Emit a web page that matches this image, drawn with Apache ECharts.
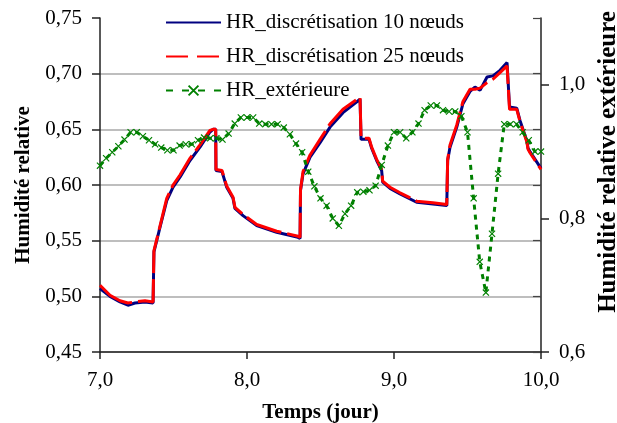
<!DOCTYPE html>
<html>
<head>
<meta charset="utf-8">
<script src="https://cdn.jsdelivr.net/npm/echarts@6/dist/echarts.min.js"></script>
<style>
  html, body { margin: 0; padding: 0; background: #fff; }
  #main { width: 617px; height: 423px; }
</style>
</head>
<body>
<div id="main"></div>
<script>
// temps (jour) des points des courbes simulées
const hrDays = [7.000, 7.068, 7.136, 7.190, 7.238, 7.306, 7.361, 7.367, 7.408, 7.454,
  7.497, 7.544, 7.612, 7.680, 7.748, 7.769, 7.787, 7.789, 7.830, 7.862,
  7.905, 7.918, 7.973, 8.066, 8.202, 8.347, 8.361, 8.364, 8.381, 8.429,
  8.497, 8.565, 8.653, 8.769, 8.776, 8.830, 8.848, 8.882, 8.916, 8.923,
  8.973, 9.041, 9.154, 9.265, 9.359, 9.365, 9.381, 9.427, 9.469, 9.517,
  9.551, 9.585, 9.633, 9.673, 9.721, 9.769, 9.782, 9.786, 9.835, 9.857,
  9.903, 9.912, 9.925, 10.000];

// HR_discrétisation 10 nœuds
const hr10 = [0.507, 0.500, 0.495, 0.492, 0.494, 0.495, 0.494, 0.540, 0.562, 0.586,
  0.598, 0.607, 0.622, 0.634, 0.6476, 0.650, 0.650, 0.613, 0.612, 0.598,
  0.588, 0.579, 0.5725, 0.5635, 0.5575, 0.553, 0.552, 0.595, 0.610, 0.625,
  0.638, 0.652, 0.665, 0.677, 0.641, 0.641, 0.633, 0.622, 0.613, 0.6025,
  0.597, 0.592, 0.5845, 0.583, 0.5815, 0.622, 0.634, 0.652, 0.673, 0.684,
  0.688, 0.685, 0.697, 0.698, 0.703, 0.710, 0.710, 0.670, 0.669, 0.658,
  0.640, 0.633, 0.630, 0.615];

// HR_discrétisation 25 nœuds
const hr25 = [0.510, 0.501, 0.496, 0.494, 0.495, 0.496, 0.495, 0.541, 0.563, 0.588,
  0.600, 0.609, 0.624, 0.636, 0.649, 0.650, 0.650, 0.614, 0.613, 0.599,
  0.589, 0.580, 0.5735, 0.5645, 0.5585, 0.554, 0.553, 0.596, 0.612, 0.627,
  0.641, 0.655, 0.668, 0.679, 0.642, 0.642, 0.634, 0.623, 0.614, 0.6035,
  0.598, 0.593, 0.5855, 0.584, 0.5825, 0.623, 0.636, 0.654, 0.675, 0.686,
  0.686, 0.687, 0.692, 0.695, 0.701, 0.707, 0.707, 0.668, 0.668, 0.657,
  0.639, 0.632, 0.629, 0.614];

// HR_extérieure, un relevé par heure à partir du jour 7,0
const extHR = [0.879, 0.890, 0.899, 0.908, 0.918, 0.929, 0.929, 0.923, 0.917, 0.911,
  0.906, 0.902, 0.902, 0.909, 0.911, 0.911, 0.917, 0.921, 0.920, 0.920,
  0.918, 0.927, 0.942, 0.951, 0.951, 0.951, 0.942, 0.941, 0.941, 0.941,
  0.936, 0.926, 0.912, 0.899, 0.870, 0.848, 0.830, 0.819, 0.800, 0.789,
  0.807, 0.819, 0.839, 0.840, 0.842, 0.849, 0.880, 0.909, 0.929, 0.929,
  0.920, 0.929, 0.942, 0.962, 0.969, 0.969, 0.962, 0.960, 0.960, 0.953,
  0.929, 0.830, 0.735, 0.689, 0.777, 0.867, 0.941, 0.941, 0.941, 0.929,
  0.917, 0.900, 0.900];

const xTicks = [7, 8, 9, 10];
const leftTicks = [0.45, 0.50, 0.55, 0.60, 0.65, 0.70, 0.75];
const rightTicks = [0.6, 0.8, 1.0];

const serif = '"Liberation Serif", "DejaVu Serif", serif';
const xMark = 'path://M0,1.2L1.2,0L10,8.8L8.8,10Z M8.8,0L10,1.2L1.2,10L0,8.8Z';
const noSymbol = { color: 'transparent', borderWidth: 0 };

let chart = echarts.init(document.getElementById('main'));

const pairs = (xs, ys) => ys.map((v, i) => [xs[i], v]);
const extData = extHR.map((v, i) => [7 + i / 24, v]);

let option = {
  animation: false,
  backgroundColor: '#fff',
  textStyle: { fontFamily: serif, color: '#000' },
  grid: { left: 100, right: 76, top: 18, bottom: 71, outerBoundsMode: 'none', containLabel: false },
  legend: {
    orient: 'vertical',
    left: 165,
    top: 12,
    padding: 0,
    itemGap: 13,
    itemWidth: 55,
    itemHeight: 14,
    textStyle: { fontFamily: serif, fontSize: 21, color: '#000' },
    data: [
      { name: 'HR_discrétisation 10 nœuds', itemStyle: noSymbol },
      { name: 'HR_discrétisation 25 nœuds', itemStyle: noSymbol, lineStyle: { type: [22, 9] } },
      { name: 'HR_extérieure', lineStyle: { type: [7, 9] } }
    ]
  },
  xAxis: {
    type: 'value',
    min: 7, max: 10, interval: 1,
    name: 'Temps (jour)',
    nameLocation: 'middle',
    nameGap: 50,
    nameTextStyle: { fontFamily: serif, fontSize: 21, fontWeight: 'bold', color: '#000' },
    axisLine: { lineStyle: { color: '#222', width: 1.5 } },
    axisTick: { customValues: xTicks, length: 7, lineStyle: { color: '#222', width: 1.5 } },
    axisLabel: {
      customValues: xTicks,
      margin: 18,
      fontFamily: serif, fontSize: 21, color: '#000',
      formatter: v => v.toFixed(1).replace('.', ',')
    },
    splitLine: { show: false }
  },
  yAxis: [
    {
      type: 'value',
      position: 'left',
      min: 0.45, max: 0.75, interval: 0.05,
      name: 'Humidité relative',
      nameLocation: 'middle',
      nameRotate: 90,
      nameGap: 56,
      nameTextStyle: { fontFamily: serif, fontSize: 21, fontWeight: 'bold', color: '#000' },
      axisLine: { show: true, lineStyle: { color: '#222', width: 1.5 } },
      axisTick: { show: true, customValues: leftTicks, length: 8, lineStyle: { color: '#222', width: 1.5 } },
      axisLabel: {
        customValues: leftTicks,
        margin: 18,
        fontFamily: serif, fontSize: 21, color: '#000',
        formatter: v => v.toFixed(2).replace('.', ',')
      },
      splitLine: { show: true, showMaxLine: false, lineStyle: { color: '#a8a8a8', width: 1.5 } }
    },
    {
      type: 'value',
      position: 'right',
      min: 0.6, max: 1.1, interval: 0.2,
      name: 'Humidité relative extérieure',
      nameLocation: 'middle',
      nameRotate: 90,
      nameGap: 46,
      nameTextStyle: {
        fontFamily: serif, fontSize: 25, fontWeight: 'bold', color: '#000',
        padding: [0, 0, 0, 46]
      },
      axisLine: { show: true, lineStyle: { color: '#222', width: 1.5 } },
      axisTick: { show: true, customValues: rightTicks, length: 8, lineStyle: { color: '#222', width: 1.5 } },
      axisLabel: {
        customValues: rightTicks,
        margin: 18,
        fontFamily: serif, fontSize: 21, color: '#000',
        formatter: v => v.toFixed(1).replace('.', ',')
      },
      splitLine: { show: false }
    },
    {
      // petits repères intérieurs du côté droit
      type: 'value',
      position: 'right',
      min: 0.45, max: 0.75, interval: 0.05,
      axisLine: { show: false },
      axisTick: { show: true, inside: true, customValues: leftTicks, length: 8, lineStyle: { color: '#444', width: 1.2 } },
      axisLabel: { show: false },
      splitLine: { show: false }
    }
  ],
  series: [
    {
      name: 'HR_discrétisation 10 nœuds',
      type: 'line',
      yAxisIndex: 0,
      data: pairs(hrDays, hr10),
      showSymbol: false,
      symbol: 'none',
      color: '#000080',
      lineStyle: { color: '#000080', width: 3 }
    },
    {
      name: 'HR_discrétisation 25 nœuds',
      type: 'line',
      yAxisIndex: 0,
      data: pairs(hrDays, hr25),
      showSymbol: false,
      symbol: 'none',
      color: '#ff0000',
      lineStyle: { color: '#ff0000', width: 3, type: [38, 6] }
    },
    {
      name: 'HR_extérieure',
      type: 'line',
      yAxisIndex: 1,
      data: extData,
      symbol: xMark,
      symbolSize: 7,
      color: '#008000',
      itemStyle: { color: '#008000' },
      lineStyle: { color: '#008000', width: 3, type: [5, 5] }
    }
  ]
};

chart.setOption(option);
</script>
</body>
</html>
